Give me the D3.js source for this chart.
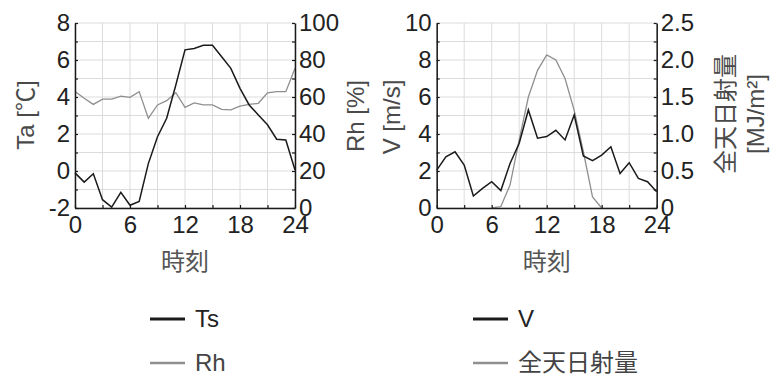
<!DOCTYPE html>
<html>
<head>
<meta charset="utf-8">
<script src="https://cdn.jsdelivr.net/npm/d3@7"></script>
<style>
  body { margin: 0; background: #fff; }
  svg { display: block; }
  text { font-family: "Liberation Sans", Arial, "Noto Sans CJK JP", sans-serif; }
</style>
</head>
<body>
<svg id="chart" width="772" height="374"></svg>
<script>
// hour of day
const hours = [0, 1, 2, 3, 4, 5, 6, 7, 8, 9, 10, 11, 12, 13, 14, 15, 16, 17, 18, 19, 20, 21, 22, 23, 24]

// left panel
const ts = [-0.1, -0.6, -0.15, -1.55, -1.95, -1.15, -1.85, -1.65, 0.4, 1.85, 2.85, 4.65, 6.55, 6.62, 6.8, 6.8, 6.18, 5.55, 4.47, 3.57, 3.03, 2.5, 1.72, 1.68, 0.05]
const rh = [63, 59.3, 56, 58.8, 58.8, 60.5, 59.8, 62.9, 48.5, 55.7, 58, 62.3, 54.4, 56.8, 55.7, 55.7, 53.3, 53, 55.1, 56, 56.6, 62.3, 62.9, 62.9, 75.5]

// right panel
const wind = [2.05, 2.77, 3.04, 2.32, 0.65, 1.06, 1.42, 0.94, 2.41, 3.5, 5.3, 3.77, 3.86, 4.2, 3.68, 5.03, 2.81, 2.56, 2.86, 3.31, 1.87, 2.45, 1.6, 1.42, 0.88]
const solar = [null, null, null, null, null, null, 0, 0.02, 0.31, 0.92, 1.5, 1.86, 2.07, 2.0, 1.75, 1.32, 0.76, 0.15, 0, null, null, null, null, null, null]

const xTicks = [0, 3, 6, 9, 12, 15, 18, 21, 24]
const xLabels = [0, 6, 12, 18, 24]

const svg = d3.select('#chart')
const dark = '#1a1a1a'
const grey = '#8f8f8f'
const fontSize = 24

function drawPanel(p) {
  const g = svg.append('g')
  const x = d3.scaleLinear().domain([0, 24]).range([p.x0, p.x0 + 220])
  const yL = d3.scaleLinear().domain(p.leftDomain).range([208, 23])
  const yR = d3.scaleLinear().domain(p.rightDomain).range([208, 23])

  // grid
  g.append('g').selectAll('line.v')
    .data(xTicks)
    .join('line')
    .attr('x1', d => x(d)).attr('x2', d => x(d))
    .attr('y1', yL.range()[0]).attr('y2', yL.range()[1])
    .attr('stroke', '#dcdcdc')
  g.append('g').selectAll('line.h')
    .data(p.leftTicks)
    .join('line')
    .attr('x1', x(0)).attr('x2', x(24))
    .attr('y1', d => yL(d)).attr('y2', d => yL(d))
    .attr('stroke', '#dcdcdc')

  // series
  const lineL = d3.line().x((d, i) => x(hours[i])).y(d => yL(d))
  const lineR = d3.line().defined(d => d != null).x((d, i) => x(hours[i])).y(d => yR(d))
  g.append('path').datum(p.rightData)
    .attr('d', lineR).attr('fill', 'none').attr('stroke', grey).attr('stroke-width', 1.3)
  g.append('path').datum(p.leftData)
    .attr('d', lineL).attr('fill', 'none').attr('stroke', dark).attr('stroke-width', 1.5)

  const styleAxis = sel => {
    sel.select('.domain').attr('stroke', dark).attr('stroke-width', 1.5)
    sel.selectAll('.tick line').attr('stroke', dark).attr('stroke-width', 1.2)
    sel.selectAll('text').attr('fill', '#222').style('font-size', fontSize + 'px')
      .style('font-family', '"Liberation Sans", Arial, sans-serif')
  }

  g.append('g').attr('transform', `translate(${x(0)},0)`)
    .call(d3.axisLeft(yL).tickValues(p.leftTicks).tickSize(-3).tickSizeOuter(0).tickPadding(5)
      .tickFormat(d => p.leftLabels.includes(d) ? p.leftFmt(d) : ''))
    .call(styleAxis)
  g.append('g').attr('transform', `translate(${x(24)},0)`)
    .call(d3.axisRight(yR).tickValues(p.rightTicks).tickSize(-3).tickSizeOuter(0).tickPadding(4)
      .tickFormat(d => p.rightLabels.includes(d) ? p.rightFmt(d) : ''))
    .call(styleAxis)
  g.append('g').attr('transform', `translate(0,${yL.range()[0]})`)
    .call(d3.axisBottom(x).tickValues(xTicks).tickSize(-3).tickSizeOuter(0).tickPadding(8)
      .tickFormat(d => xLabels.includes(d) ? d : ''))
    .call(styleAxis)

  // titles
  g.append('text')
    .attr('x', (x(0) + x(24)) / 2).attr('y', 270)
    .attr('text-anchor', 'middle').attr('fill', '#555')
    .style('font-size', fontSize + 'px').style('font-family', '"Noto Sans CJK JP", sans-serif')
    .text('時刻')
  p.titles.forEach(t => {
    g.append('text')
      .attr('transform', `translate(${t.cx},${t.cy}) rotate(-90)`)
      .attr('text-anchor', 'middle').attr('dominant-baseline', 'central')
      .attr('fill', '#4a4a4a')
      .style('font-size', fontSize + 'px')
      .text(t.text)
  })

  // legend
  p.legend.forEach((item, i) => {
    const ly = [319, 363][i]
    g.append('line')
      .attr('x1', p.legendX).attr('x2', p.legendX + 35)
      .attr('y1', ly).attr('y2', ly)
      .attr('stroke', i === 0 ? dark : grey).attr('stroke-width', i === 0 ? 3 : 2.5)
    g.append('text')
      .attr('x', p.legendX + 45).attr('y', ly + 8)
      .attr('fill', i === 0 ? '#222' : '#444')
      .style('font-size', fontSize + 'px')
      .text(item)
  })
}

drawPanel({
  x0: 75,
  leftDomain: [-2, 8], rightDomain: [0, 100],
  leftTicks: [-2, -1, 0, 1, 2, 3, 4, 5, 6, 7, 8],
  leftLabels: [-2, 0, 2, 4, 6, 8], leftFmt: d => String(d),
  rightTicks: [0, 10, 20, 30, 40, 50, 60, 70, 80, 90, 100],
  rightLabels: [0, 20, 40, 60, 80, 100], rightFmt: d => String(d),
  leftData: ts, rightData: rh,
  titles: [{ text: 'Ta [℃]', cx: 25, cy: 115 }, { text: 'Rh [%]', cx: 355, cy: 116 }],
  legend: ['Ts', 'Rh'], legendX: 150
})

drawPanel({
  x0: 436.7,
  leftDomain: [0, 10], rightDomain: [0, 2.5],
  leftTicks: [0, 1, 2, 3, 4, 5, 6, 7, 8, 9, 10],
  leftLabels: [0, 2, 4, 6, 8, 10], leftFmt: d => String(d),
  rightTicks: [0, 0.25, 0.5, 0.75, 1, 1.25, 1.5, 1.75, 2, 2.25, 2.5],
  rightLabels: [0, 0.5, 1, 1.5, 2, 2.5], rightFmt: d => d === 0 ? '0' : d3.format('.1f')(d),
  leftData: wind, rightData: solar,
  titles: [
    { text: 'V [m/s]', cx: 391, cy: 117 },
    { text: '全天日射量', cx: 725, cy: 114 },
    { text: '[MJ/m²]', cx: 755, cy: 114 }
  ],
  legend: ['V', '全天日射量'], legendX: 473
})
</script>
</body>
</html>
